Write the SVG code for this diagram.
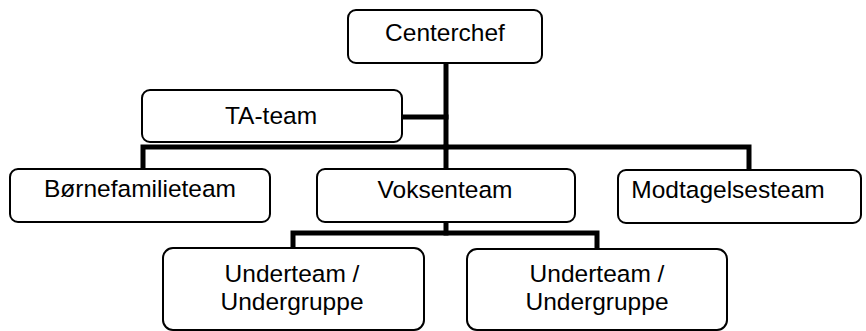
<svg xmlns="http://www.w3.org/2000/svg" width="866" height="331" viewBox="0 0 866 331">
<style>
.box{fill:#fff;stroke:#000;stroke-width:2}
.t{font-family:"Liberation Sans",Arial,sans-serif;font-size:24.5px;fill:#000;text-anchor:middle}
.c{fill:none;stroke:#000;stroke-width:5;stroke-linejoin:miter;stroke-linecap:square}
</style>
<rect width="866" height="331" fill="#fff"/>
<g id="connectors">
<path class="c" d="M446,63 V147"/>
<path class="c" d="M402,117 H446"/>
<path class="c" d="M143,169 V147 H749 V169"/>
<path class="c" d="M446,147 V169"/>
<path class="c" d="M446,222 V233"/>
<path class="c" d="M293,248 V233 H597 V248"/>
</g>
<g id="centerchef"><rect class="box" x="348" y="10" width="194" height="53" rx="8"/><text class="t" x="445" y="41">Centerchef</text></g>
<g id="ta-team"><rect class="box" x="142" y="90" width="260" height="52" rx="8"/><text class="t" x="271" y="124">TA-team</text></g>
<g id="boernefamilieteam"><rect class="box" x="10" y="169" width="260" height="53" rx="8"/><text class="t" x="140" y="197">Børnefamilieteam</text></g>
<g id="voksenteam"><rect class="box" x="317" y="169" width="258" height="53" rx="8"/><text class="t" x="445" y="198">Voksenteam</text></g>
<g id="modtagelsesteam"><rect class="box" x="618" y="170" width="243" height="53" rx="8"/><text class="t" x="728" y="198">Modtagelsesteam</text></g>
<g id="underteam1"><rect class="box" x="163" y="248" width="261" height="82" rx="10"/><text class="t" x="292" y="282">Underteam /</text><text class="t" x="292" y="310">Undergruppe</text></g>
<g id="underteam2"><rect class="box" x="467" y="249" width="260" height="81" rx="10"/><text class="t" x="597" y="282">Underteam /</text><text class="t" x="597" y="310">Undergruppe</text></g>
</svg>
